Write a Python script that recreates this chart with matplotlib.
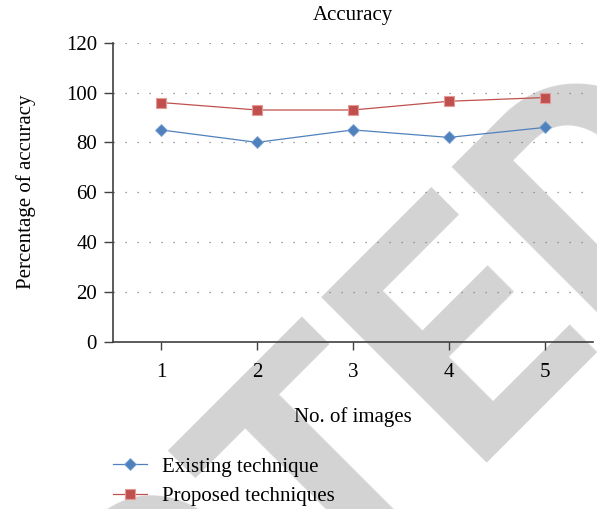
import matplotlib.pyplot as plt

images = [1, 2, 3, 4, 5]
existing = [85, 80, 85, 82, 86]
proposed = [96, 93, 93, 96.5, 98]
yticks = [0, 20, 40, 60, 80, 100, 120]

plt.rcParams['font.family'] = ['Liberation Serif', 'DejaVu Serif']
plt.rcParams['font.size'] = 15

fig = plt.figure(figsize=(5.97, 5.09), dpi=100)
ax = fig.add_axes([0.1893, 0.3286, 0.8037, 0.5875])
ax.set_facecolor('none')

# grey watermark behind everything
fig.text(1.252, 0.645, 'RETRACTED', rotation=45, rotation_mode='anchor',
         ha='right', va='baseline', fontsize=236, fontweight='bold',
         family='Roboto', color='#d3d3d3', zorder=-5)

ax.plot(images, existing, color='#4F81BD', lw=0.9, marker='D', ms=6,
        mec='#7FA3D3', mew=0.6, label='Existing technique')
ax.plot(images, proposed, color='#C0504D', lw=0.9, marker='s', ms=7,
        mec='#E39A98', mew=0.8, label='Proposed techniques')

ax.set_xlim(0.5, 5.5)
ax.set_ylim(0, 120)
ax.set_xticks(images)
ax.set_yticks(yticks)
for v in yticks[1:]:
    ax.axhline(v, color='#808080', lw=0.9, ls=(0, (1, 8.6)), zorder=0)

for s in ['top', 'right']:
    ax.spines[s].set_visible(False)
for s in ['left', 'bottom']:
    ax.spines[s].set_color('#404040')
    ax.spines[s].set_linewidth(1.2)
ax.tick_params(axis='y', direction='out', length=6.5, width=1.0, color='#404040', pad=5)
ax.tick_params(axis='x', direction='out', length=6, width=1.0, color='#404040', pad=9)

ax.set_title('Accuracy', fontsize=15, pad=16)
ax.set_xlabel('No. of images')
ax.xaxis.set_label_coords(0.5, -0.218)
ax.set_ylabel('Percentage of accuracy')
ax.yaxis.set_label_coords(-0.16, 0.5)

fig.legend(loc='upper left', bbox_to_anchor=(0.189, 0.102), frameon=False,
           borderpad=0, borderaxespad=0, handlelength=1.65, handletextpad=0.72,
           labelspacing=0.48, numpoints=1)

fig.savefig('out.png', dpi=100)
